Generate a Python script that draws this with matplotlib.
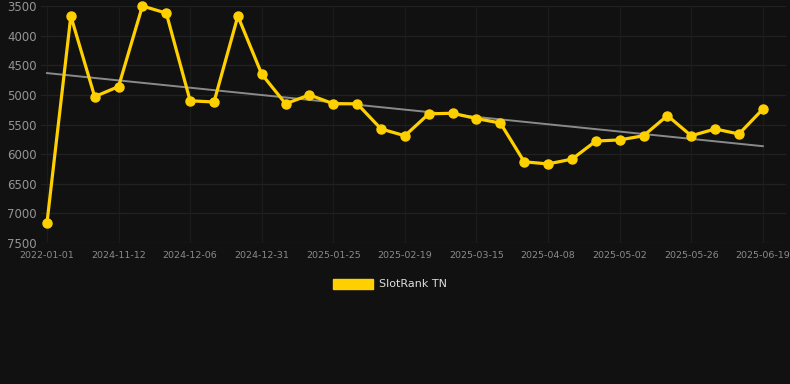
import matplotlib.pyplot as plt
import matplotlib.patches as mpatches
import numpy as np

# Data
dates = ['2022-01-01', '2024-10-27', '2024-11-04', '2024-11-12', '2024-11-20',
         '2024-11-28', '2024-12-06', '2024-12-14', '2024-12-22', '2024-12-31',
         '2025-01-08', '2025-01-16', '2025-01-25', '2025-02-02', '2025-02-10',
         '2025-02-19', '2025-02-27', '2025-03-07', '2025-03-15', '2025-03-23',
         '2025-03-31', '2025-04-08', '2025-04-16', '2025-04-24', '2025-05-02',
         '2025-05-10', '2025-05-18', '2025-05-26', '2025-06-03', '2025-06-11',
         '2025-06-19']
ranks = [7160, 3670, 5030, 4860, 3500, 3620, 5100, 5120, 3670, 4650,
         5150, 5000, 5150, 5150, 5575, 5690, 5320, 5310, 5400, 5475,
         6130, 6165, 6085, 5780, 5760, 5690, 5350, 5690, 5576, 5660,
         5240]
y_ticks = [3500, 4000, 4500, 5000, 5500, 6000, 6500, 7000, 7500]

bg = '#111111'
gold = '#FFD000'

fig = plt.figure(figsize=(7.9, 3.84), dpi=100, facecolor=bg)
ax = fig.add_axes([41 / 790, 1 - 243 / 384, 745 / 790, 237 / 384])
ax.set_facecolor(bg)

x = np.arange(len(ranks))

# trend line (least squares)
coef = np.polyfit(x, ranks, 1)
ax.plot(x, np.polyval(coef, x), color='#8a8a8a', linewidth=1.4, zorder=2)

ax.plot(x, ranks, color=gold, linewidth=2.3, marker='o', markersize=6.5,
        clip_on=False, zorder=3)

ax.set_ylim(7500, 3500)
ax.set_xlim(-0.25, 30.97)
ax.set_yticks(y_ticks)
ax.set_yticklabels([str(v) for v in y_ticks])
ax.set_xticks(x[::3])
ax.set_xticklabels(dates[::3])

ax.grid(True, axis='y', color='#212121', linewidth=0.9)
ax.grid(True, axis='x', color='#1b1b1b', linewidth=0.9)
ax.set_axisbelow(True)
for s in ax.spines.values():
    s.set_visible(False)
ax.tick_params(axis='y', colors='#959595', labelsize=8.5, length=0, pad=3)
ax.tick_params(axis='x', colors='#8a8a8a', labelsize=6.8, length=0, pad=6)

handle = mpatches.Patch(color=gold, label='SlotRank TN')
leg = fig.legend(handles=[handle], loc='center', bbox_to_anchor=(390 / 790, 1 - 284 / 384),
                 frameon=False, handlelength=3.6, handleheight=1.0, fontsize=8,
                 labelcolor='#dddddd', handletextpad=0.6)

plt.savefig('out.png', facecolor=bg)
